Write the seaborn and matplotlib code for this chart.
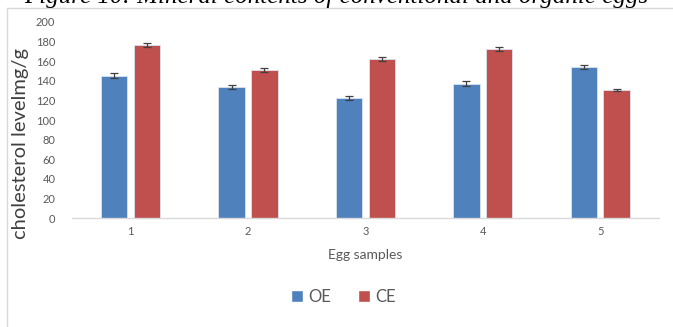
import numpy as np
import pandas as pd
import matplotlib
matplotlib.use("Agg")
import matplotlib.pyplot as plt
import seaborn as sns
from matplotlib.patches import Rectangle

# Cholesterol level (mg/g) per egg sample, organic (OE) vs conventional (CE)
samples = ["1", "2", "3", "4", "5"]
oe_values = [145, 134, 122, 137, 154]
ce_values = [176, 151, 162, 172, 131]
oe_err = [2.5, 2.0, 2.0, 2.5, 2.0]
ce_err = [2.0, 2.0, 2.0, 2.0, 1.0]
groups = ["OE", "CE"]

df = pd.DataFrame({
    "sample": samples * 2,
    "group": [groups[0]] * len(samples) + [groups[1]] * len(samples),
    "value": oe_values + ce_values,
    "err": oe_err + ce_err,
})

sns.set_theme(style="white")
plt.rcParams["font.family"] = ["Lato", "DejaVu Sans"]

fig = plt.figure(figsize=(6.73, 3.27), dpi=100)
ax = fig.add_axes([0.107, 0.333, 0.872, 0.600])

palette = {"OE": "#4F81BD", "CE": "#C0504D"}
sns.barplot(data=df, x="sample", y="value", hue="group", order=samples,
            hue_order=groups, palette=palette, width=0.56, gap=0.2,
            errorbar=None, saturation=1, edgecolor="#dbe4f0", linewidth=0.6,
            legend=False, ax=ax)

# error bars at the centre of each bar
for container, g in zip(ax.containers, groups):
    sub = df[df["group"] == g].set_index("sample").loc[samples]
    xs = [p.get_x() + p.get_width() / 2 for p in container.patches]
    ax.errorbar(xs, sub["value"], yerr=sub["err"], fmt="none",
                ecolor="#404040", elinewidth=0.9, capsize=3, capthick=0.9)

ax.set_ylim(0, 200)
ax.set_yticks(range(0, 201, 20))
ax.set_xlim(-0.5, len(samples) - 0.5)
for s in ["top", "right", "left"]:
    ax.spines[s].set_visible(False)
ax.spines["bottom"].set_color("#d9d9d9")
ax.spines["bottom"].set_linewidth(1.0)
ax.tick_params(axis="both", length=0, labelsize=8, labelcolor="#595959", pad=6)
ax.tick_params(axis="y", pad=12)
ax.set_xlabel("Egg samples", fontsize=10, color="#595959", labelpad=8)
ax.set_ylabel("")
fig.text(0.030, 0.56, "cholesterol levelmg/g", rotation=90, ha="center",
         va="center", fontsize=14.5, color="#404040")

# legend drawn as square swatches beneath the plot
handles = [Rectangle((0, 0), 1, 1, facecolor=palette[g]) for g in groups]
fig.legend(handles, groups, loc="center", bbox_to_anchor=(0.51, 0.092),
           ncol=2, frameon=False, fontsize=12, handlelength=0.75,
           handleheight=0.75, handletextpad=0.3, columnspacing=1.6,
           labelcolor="#595959")

# chart frame
fig.add_artist(plt.Line2D([0.0103, 0.0103], [0.0, 0.975], color="#d9d9d9",
                          linewidth=1.0, transform=fig.transFigure))
fig.add_artist(plt.Line2D([0.0103, 1.0], [0.975, 0.975], color="#d9d9d9",
                          linewidth=1.0, transform=fig.transFigure))

fig.text(0.5, 0.99, "Figure 10: Mineral contents of conventional and organic eggs",
         ha="center", va="baseline", fontsize=18, style="italic",
         family=["Liberation Serif"], color="black")

fig.savefig("out.png", dpi=100)
